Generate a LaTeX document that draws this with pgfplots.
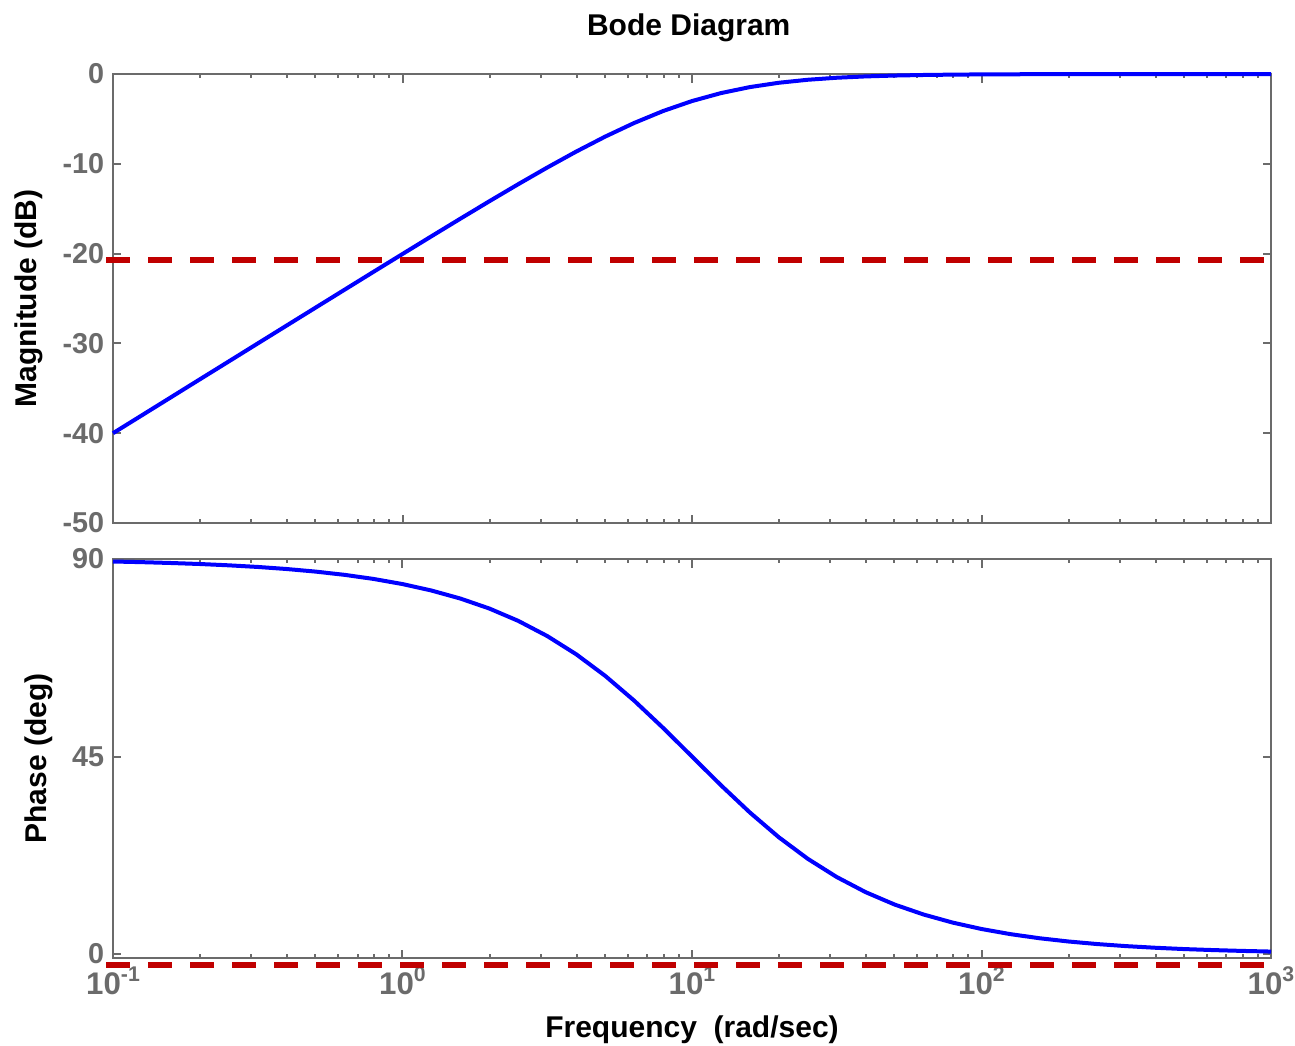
\documentclass[border=0pt]{standalone}
\usepackage{pgfplots}
\pgfplotsset{compat=1.18}
\usepackage{fontspec}
\setmainfont{Liberation Sans}
\setsansfont{Liberation Sans}
\definecolor{axgray}{HTML}{6B6B6B}
\definecolor{refred}{HTML}{C00000}
\pgfplotsset{
  bodestyle/.style={
    scale only axis,
    width=463.2pt,
    xmin=0.1, xmax=1000,
    axis line style={axgray, line width=0.9pt},
    every tick/.style={axgray, line width=0.8pt},
    major tick length=3.4pt,
    minor tick length=1.6pt,
    tick align=inside,
    xtick={0.1,1,10,100,1000},
    tick label style={font=\bfseries\fontsize{11.5}{13}\selectfont, text=axgray},
    x tick label style={font=\bfseries\fontsize{12.5}{14}\selectfont, text=axgray},
    label style={font=\bfseries\fontsize{12}{14}\selectfont, text=black},
    clip=false,
    /pgf/number format/assume math mode=true,
  }
}
\newcommand{\sups}[1]{\raisebox{0.42em}{\fontsize{8.5}{9}\selectfont #1}}
\begin{document}
\begin{tikzpicture}
\node[font=\bfseries\fontsize{12}{14}\selectfont] at (275.5pt,-11.3pt) {Bode Diagram};
\begin{axis}[xmode=log, bodestyle,
  at={(45.2pt,-209.2pt)}, anchor=south west,
  height=179.6pt,
  ymin=-50, ymax=0,
  ytick={-50,-40,-30,-20,-10,0},
  xticklabels={},
  ylabel={Magnitude (dB)},
  ylabel style={yshift=1pt},
]
\addplot[blue, line width=1.6pt] coordinates {
(0.1,-40.000) (0.1259,-38.001) (0.1585,-36.001) (0.1995,-34.002) (0.2512,-32.003)
(0.3162,-30.004) (0.3981,-28.007) (0.5012,-26.011) (0.631,-24.017) (0.7943,-22.027)
(1,-20.043) (1.2589,-18.068) (1.5849,-16.108) (1.9953,-14.170) (2.5119,-12.266)
(3.1623,-10.414) (3.981,-8.639) (5.012,-6.973) (6.31,-5.455) (7.943,-4.125)
(10,-3.010) (12.589,-2.124) (15.849,-1.455) (19.953,-0.973) (25.119,-0.639)
(31.623,-0.414) (39.81,-0.266) (50.12,-0.170) (63.1,-0.108) (79.43,-0.068)
(100,-0.043) (158.5,-0.017) (251.2,-0.007) (398.1,-0.003) (1000,-0.0004)
};
\addplot[refred, line width=2.4pt, dash pattern=on 9.6pt off 7.2pt] coordinates {(0.0946,-20.7) (946,-20.7)};
\end{axis}
\begin{axis}[xmode=log, bodestyle,
  at={(45.2pt,-383.2pt)}, anchor=south west,
  height=159.6pt,
  ymin=-0.9, ymax=90,
  ytick={0,45,90},
  xticklabels={10\sups{-1},10\sups{0},10\sups{1},10\sups{2},10\sups{3}},
  xlabel={Frequency\ \ (rad/sec)},
  ylabel={Phase (deg)},
  ylabel style={yshift=1pt},
  xlabel style={yshift=-1.5pt},
]
\addplot[blue, line width=1.6pt] coordinates {
(0.1,89.43) (0.1259,89.28) (0.1585,89.09) (0.1995,88.86) (0.2512,88.56)
(0.3162,88.19) (0.3981,87.72) (0.5012,87.13) (0.631,86.39) (0.7943,85.46)
(1,84.29) (1.2589,82.82) (1.5849,80.99) (1.9953,78.72) (2.5119,75.90)
(3.1623,72.45) (3.981,68.30) (5.012,63.39) (6.31,57.75) (7.943,51.54)
(10,45.00) (12.589,38.46) (15.849,32.25) (19.953,26.61) (25.119,21.70)
(31.623,17.55) (39.81,14.10) (50.12,11.28) (63.1,9.01) (79.43,7.18)
(100,5.71) (125.9,4.54) (158.5,3.61) (199.5,2.87) (251.2,2.28)
(316.2,1.81) (398.1,1.44) (501.2,1.14) (631,0.91) (794.3,0.72) (1000,0.57)
};
\addplot[refred, line width=2.4pt, dash pattern=on 9.6pt off 7.2pt] coordinates {(0.0946,-2.5) (946,-2.5)};
\end{axis}
\pgfresetboundingbox
\path[use as bounding box] (0,0) rectangle (518pt,-418pt);
\end{tikzpicture}
\end{document}
